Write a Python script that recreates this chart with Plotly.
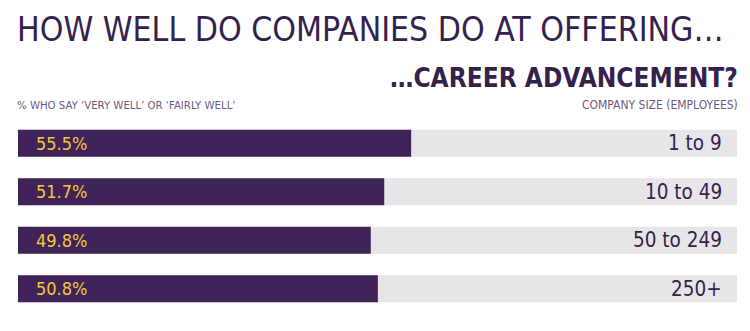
import plotly.graph_objects as go

categories = ["1 to 9", "10 to 49", "50 to 249", "250+"]
values = [55.5, 51.7, 49.8, 50.8]
value_labels = ["55.5%", "51.7%", "49.8%", "50.8%"]
AXIS_MAX = 101.5

PURPLE = "#3f2358"
TRACK = "#e6e6e8"
YELLOW = "#f3c93a"
DARK = "#34224d"
FONT = "DejaVu Sans Condensed"

fig = go.Figure()
fig.add_trace(go.Bar(
    x=[AXIS_MAX] * len(categories), y=categories, orientation="h",
    marker=dict(color=TRACK, line=dict(width=0)), width=0.555,
    hoverinfo="skip", showlegend=False,
))
fig.add_trace(go.Bar(
    x=values, y=categories, orientation="h",
    marker=dict(color=PURPLE, line=dict(width=0)), width=0.555,
    showlegend=False,
))

for cat, lab in zip(categories, value_labels):
    fig.add_annotation(x=0, y=cat, xref="x", yref="y", text=lab, showarrow=False,
                       xanchor="left", yanchor="middle", xshift=16, yshift=0,
                       font=dict(family=FONT, size=18, color=YELLOW))
    fig.add_annotation(x=1, y=cat, xref="paper", yref="y", text=cat, showarrow=False,
                       xanchor="right", yanchor="middle", xshift=-13,
                       font=dict(family=FONT, size=20.5, color=DARK))

fig.add_annotation(x=0, y=1.463, xref="paper", yref="paper",
                   text="HOW WELL DO COMPANIES DO AT OFFERING…", showarrow=False,
                   xanchor="left", yanchor="middle", xshift=-3,
                   font=dict(family=FONT, size=33.5, color=DARK))
fig.add_annotation(x=1, y=1.213, xref="paper", yref="paper",
                   text="<b>…CAREER ADVANCEMENT?</b>", showarrow=False,
                   xanchor="right", yanchor="middle", xshift=3,
                   font=dict(family=FONT, size=26, color=DARK))
fig.add_annotation(x=0, y=1.072, xref="paper", yref="paper",
                   text="% WHO SAY ‘VERY WELL’ OR ‘FAIRLY WELL’", showarrow=False,
                   xanchor="left", yanchor="middle", xshift=-3,
                   font=dict(family=FONT, size=11.3, color="#6e5a80"))
fig.add_annotation(x=1, y=1.072, xref="paper", yref="paper",
                   text="COMPANY SIZE (EMPLOYEES)", showarrow=False,
                   xanchor="right", yanchor="middle", xshift=3,
                   font=dict(family=FONT, size=12, color="#6e5a80"))

fig.update_layout(
    width=750, height=331, barmode="overlay",
    margin=dict(l=18, r=13, t=119, b=17.5),
    paper_bgcolor="white", plot_bgcolor="white",
    xaxis=dict(range=[0, AXIS_MAX], visible=False, fixedrange=True),
    yaxis=dict(categoryorder="array", categoryarray=categories, autorange="reversed",
               visible=False, fixedrange=True),
)
fig.write_html("out.html", config={"displayModeBar": False})
